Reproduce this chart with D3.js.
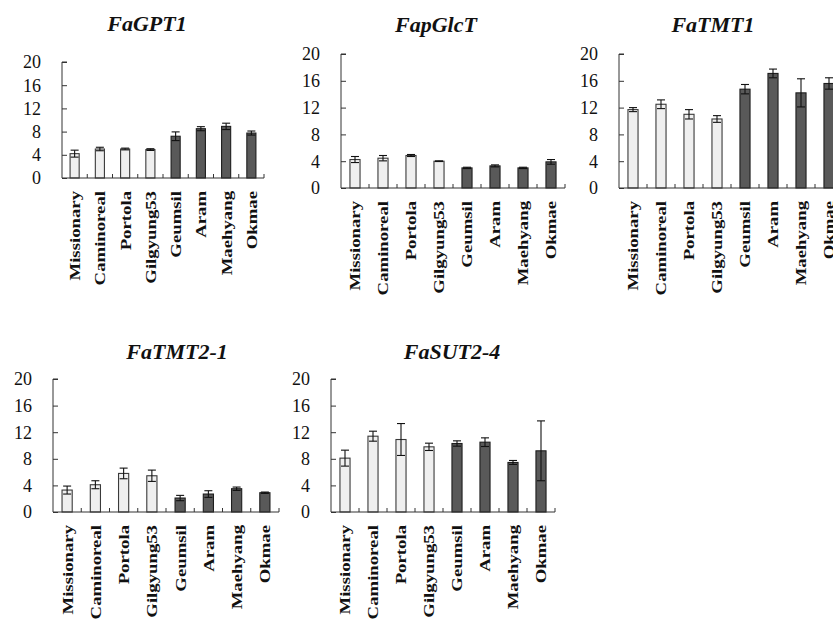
<!DOCTYPE html>
<html>
<head>
<meta charset="utf-8">
<script src="https://cdn.jsdelivr.net/npm/d3@7"></script>
<style>
  html, body { margin: 0; padding: 0; background: #fff; }
  svg { display: block; }
  svg text { font-family: "Liberation Serif", "Times New Roman", Times, serif; fill: #111; }
  .title { font-size: 22px; font-weight: bold; font-style: italic; }
  .ylab { font-size: 18px; }
  .xlab { font-size: 15px; font-weight: bold; }
</style>
</head>
<body>
<svg id="chart" width="833" height="619"></svg>
<script>
// Cultivars shown on every panel
const categories = ["Missionary", "Caminoreal", "Portola", "Gilgyung53", "Geumsil", "Aram", "Maehyang", "Okmae"];
// Cultivar group: first four imported (light bars), last four domestic (dark bars)
const cultivarGroup = ["light", "light", "light", "light", "dark", "dark", "dark", "dark"];
const genes = ["FaGPT1", "FapGlcT", "FaTMT1", "FaTMT2-1", "FaSUT2-4"];
const yTickValues = [0, 4, 8, 12, 16, 20];

// Relative expression (mean) and standard error per gene
const gpt1Mean = [4.2, 5.0, 5.0, 4.9, 7.2, 8.5, 8.9, 7.75];
const gpt1Err = [0.6, 0.3, 0.15, 0.15, 0.75, 0.35, 0.55, 0.35];
const glctMean = [4.25, 4.45, 4.85, 4.0, 3.0, 3.3, 3.0, 3.9];
const glctErr = [0.45, 0.4, 0.15, 0.05, 0.1, 0.15, 0.1, 0.35];
const tmt1Mean = [11.7, 12.5, 11.0, 10.3, 14.75, 17.1, 14.2, 15.6];
const tmt1Err = [0.3, 0.65, 0.7, 0.5, 0.7, 0.65, 2.1, 0.85];
const tmt21Mean = [3.3, 4.1, 5.8, 5.45, 2.1, 2.7, 3.5, 2.9];
const tmt21Err = [0.6, 0.6, 0.8, 0.85, 0.4, 0.5, 0.25, 0.1];
const sut24Mean = [8.1, 11.4, 10.9, 9.8, 10.3, 10.5, 7.45, 9.2];
const sut24Err = [1.2, 0.75, 2.4, 0.55, 0.4, 0.65, 0.3, 4.5];

const means = [gpt1Mean, glctMean, tmt1Mean, tmt21Mean, sut24Mean];
const errs = [gpt1Err, glctErr, tmt1Err, tmt21Err, sut24Err];

// Panel placement on the page
const panels = [
  { left: 62,  right: 264, top: 62,  bottom: 178, titleX: 147, titleY: 31 },
  { left: 341, right: 565, top: 54,  bottom: 188, titleX: 436, titleY: 32 },
  { left: 619, right: 843, top: 54,  bottom: 188, titleX: 713, titleY: 32 },
  { left: 53,  right: 279, top: 379, bottom: 512, titleX: 177, titleY: 359 },
  { left: 331, right: 555, top: 379, bottom: 512, titleX: 452, titleY: 359 }
];

const fill = { light: "#efefef", dark: "#595959" };
const stroke = { light: "#3a3a3a", dark: "#1e1e1e" };

const svg = d3.select("#chart");

genes.forEach((gene, gi) => {
  const p = panels[gi];
  const g = svg.append("g");

  const x = d3.scaleBand()
    .domain(categories)
    .range([p.left, p.right])
    .paddingInner(0.64)
    .paddingOuter(0.32);
  const y = d3.scaleLinear().domain([0, 20]).range([p.bottom, p.top]);
  const step = x.step();

  // Title
  g.append("text")
    .attr("class", "title")
    .attr("x", p.titleX)
    .attr("y", p.titleY)
    .attr("text-anchor", "middle")
    .text(gene);

  // Y axis with inward ticks
  const yAxis = d3.axisRight(y).tickValues(yTickValues).tickSize(5).tickFormat("");
  const ya = g.append("g").attr("transform", `translate(${p.left},0)`).call(yAxis);
  ya.select(".domain").attr("stroke", "#333").attr("d", `M5,${p.top}H0V${p.bottom}`);
  ya.selectAll(".tick line").attr("stroke", "#333");

  g.selectAll(".ylab")
    .data(yTickValues)
    .join("text")
    .attr("class", "ylab")
    .attr("x", p.left - 21)
    .attr("y", d => y(d))
    .attr("dy", "0.36em")
    .attr("text-anchor", "end")
    .text(d => d);

  // Bars
  const rows = categories.map((c, i) => ({ c, v: means[gi][i], e: errs[gi][i], grp: cultivarGroup[i] }));
  g.selectAll(".bar")
    .data(rows)
    .join("rect")
    .attr("x", d => x(d.c))
    .attr("y", d => y(d.v))
    .attr("width", x.bandwidth())
    .attr("height", d => y(0) - y(d.v))
    .attr("fill", d => fill[d.grp])
    .attr("stroke", d => stroke[d.grp])
    .attr("stroke-width", 1.1);

  // Error bars
  const cap = 4;
  const eb = g.selectAll(".err").data(rows).join("g").attr("stroke", "#111").attr("stroke-width", 1.1);
  eb.append("line")
    .attr("x1", d => x(d.c) + x.bandwidth() / 2)
    .attr("x2", d => x(d.c) + x.bandwidth() / 2)
    .attr("y1", d => y(d.v - d.e))
    .attr("y2", d => y(d.v + d.e));
  eb.append("line")
    .attr("x1", d => x(d.c) + x.bandwidth() / 2 - cap)
    .attr("x2", d => x(d.c) + x.bandwidth() / 2 + cap)
    .attr("y1", d => y(d.v + d.e))
    .attr("y2", d => y(d.v + d.e));
  eb.append("line")
    .attr("x1", d => x(d.c) + x.bandwidth() / 2 - cap)
    .attr("x2", d => x(d.c) + x.bandwidth() / 2 + cap)
    .attr("y1", d => y(d.v - d.e))
    .attr("y2", d => y(d.v - d.e));

  // X axis line and inward category boundary ticks
  g.append("line")
    .attr("x1", p.left).attr("x2", p.right)
    .attr("y1", y(0)).attr("y2", y(0))
    .attr("stroke", "#333");
  g.selectAll(".xtick")
    .data(categories)
    .join("line")
    .attr("x1", d => x(d) + x.bandwidth() / 2 + step / 2)
    .attr("x2", d => x(d) + x.bandwidth() / 2 + step / 2)
    .attr("y1", y(0))
    .attr("y2", y(0) - 4)
    .attr("stroke", "#333");

  // Rotated category labels
  g.selectAll(".xlab")
    .data(categories)
    .join("text")
    .attr("class", "xlab")
    .attr("transform", d => `translate(${x(d) + x.bandwidth() / 2},${y(0) + 13}) rotate(-90) scale(1.25,1)`)
    .attr("dy", "0.36em")
    .attr("text-anchor", "end")
    .text(d => d);
});
</script>
</body>
</html>
